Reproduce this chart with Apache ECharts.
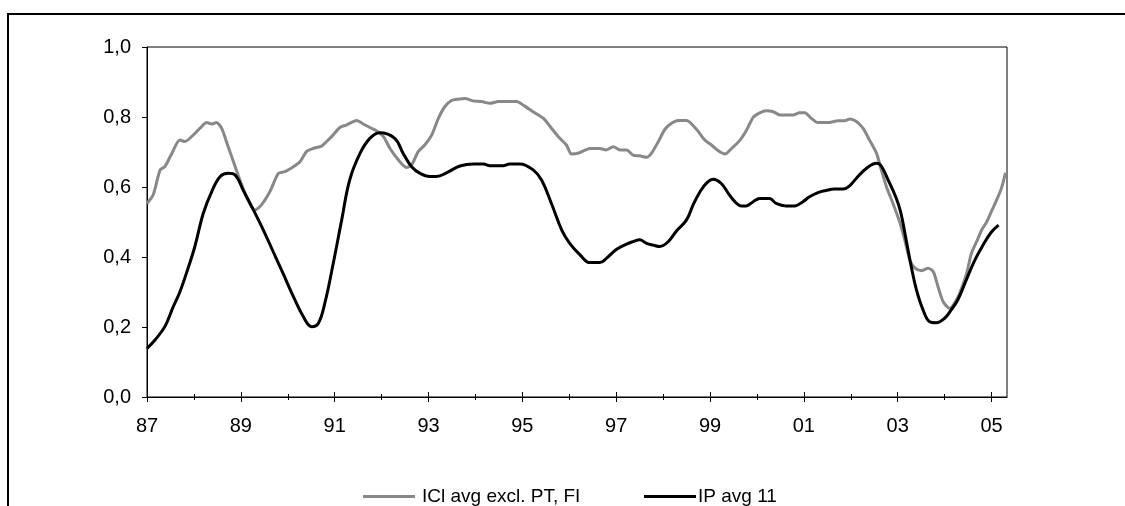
<!DOCTYPE html>
<html>
<head>
<meta charset="utf-8">
<script src="https://cdn.jsdelivr.net/npm/echarts@6/dist/echarts.min.js"></script>
<style>
html,body{margin:0;padding:0;background:#fff;}
#chart{width:1125px;height:506px;}
</style>
</head>
<body>
<div id="chart"></div>
<script>
// Series names
const seriesNames = ['ICl avg excl. PT, FI', 'IP avg 11'];

// Gray series: ICl avg excl. PT, FI (time in decimal years, value)
const iclTimes = [1987.00,1987.13,1987.28,1987.38,1987.53,1987.70,1987.81,1987.99,1988.13,1988.27,1988.38,1988.48,1988.59,1988.73,1988.88,1988.98,1989.12,1989.30,1989.44,1989.62,1989.80,1989.94,1990.12,1990.26,1990.40,1990.54,1990.72,1990.83,1990.97,1991.11,1991.25,1991.47,1991.61,1991.75,1991.89,1992.04,1992.18,1992.36,1992.53,1992.64,1992.78,1992.92,1993.07,1993.21,1993.35,1993.49,1993.63,1993.78,1993.95,1994.13,1994.31,1994.49,1994.66,1994.88,1995.05,1995.23,1995.45,1995.62,1995.80,1995.94,1996.05,1996.22,1996.44,1996.65,1996.79,1996.94,1997.08,1997.22,1997.36,1997.50,1997.65,1997.75,1997.90,1998.04,1998.18,1998.32,1998.50,1998.71,1998.89,1999.03,1999.17,1999.32,1999.46,1999.64,1999.78,1999.92,2000.06,2000.20,2000.35,2000.49,2000.77,2000.91,2001.02,2001.16,2001.30,2001.51,2001.73,2001.87,2001.98,2002.12,2002.26,2002.40,2002.55,2002.65,2002.76,2002.90,2003.04,2003.15,2003.26,2003.37,2003.51,2003.65,2003.76,2003.86,2003.97,2004.11,2004.25,2004.36,2004.47,2004.57,2004.68,2004.79,2004.90,2005.01,2005.11,2005.21,2005.30];
const iclValues = [0.553,0.577,0.649,0.658,0.696,0.734,0.730,0.749,0.768,0.784,0.780,0.784,0.768,0.715,0.658,0.620,0.572,0.534,0.549,0.587,0.639,0.644,0.658,0.672,0.701,0.710,0.717,0.730,0.749,0.770,0.777,0.790,0.780,0.770,0.761,0.744,0.710,0.677,0.656,0.663,0.701,0.720,0.749,0.796,0.830,0.847,0.851,0.853,0.846,0.844,0.839,0.844,0.844,0.844,0.831,0.815,0.796,0.768,0.739,0.720,0.694,0.698,0.710,0.710,0.706,0.715,0.706,0.706,0.691,0.689,0.685,0.696,0.730,0.765,0.782,0.790,0.790,0.765,0.734,0.720,0.704,0.694,0.710,0.734,0.763,0.799,0.812,0.818,0.815,0.806,0.806,0.812,0.812,0.796,0.784,0.784,0.789,0.789,0.794,0.787,0.768,0.734,0.696,0.649,0.601,0.553,0.501,0.449,0.391,0.368,0.361,0.368,0.358,0.315,0.272,0.253,0.277,0.310,0.353,0.410,0.443,0.477,0.501,0.534,0.563,0.596,0.641];

// Black series: IP avg 11
const ipTimes = [1987.00,1987.17,1987.38,1987.56,1987.70,1987.88,1988.02,1988.20,1988.38,1988.56,1988.73,1988.88,1989.05,1989.27,1989.48,1989.69,1989.90,1990.12,1990.33,1990.51,1990.65,1990.79,1990.97,1991.15,1991.32,1991.54,1991.75,1991.96,1992.28,1992.46,1992.64,1992.82,1993.03,1993.17,1993.39,1993.67,1993.96,1994.17,1994.31,1994.59,1994.73,1994.95,1995.23,1995.41,1995.62,1995.84,1996.01,1996.23,1996.44,1996.65,1996.79,1997.01,1997.22,1997.36,1997.50,1997.65,1997.79,1997.93,1998.11,1998.29,1998.50,1998.64,1998.79,1998.93,1999.07,1999.24,1999.39,1999.53,1999.67,1999.77,1999.92,2000.06,2000.27,2000.41,2000.62,2000.80,2000.98,2001.12,2001.30,2001.47,2001.65,2001.84,2001.98,2002.12,2002.33,2002.55,2002.65,2002.79,2002.97,2003.07,2003.18,2003.29,2003.40,2003.54,2003.68,2003.82,2004.00,2004.14,2004.28,2004.46,2004.63,2004.82,2004.99,2005.15];
const ipValues = [0.139,0.163,0.201,0.258,0.300,0.370,0.430,0.525,0.587,0.630,0.639,0.634,0.591,0.534,0.477,0.415,0.353,0.287,0.230,0.201,0.210,0.268,0.382,0.506,0.620,0.696,0.739,0.755,0.739,0.696,0.658,0.639,0.630,0.630,0.641,0.660,0.666,0.666,0.661,0.661,0.666,0.666,0.649,0.620,0.553,0.477,0.439,0.406,0.384,0.384,0.396,0.422,0.437,0.444,0.449,0.439,0.434,0.430,0.444,0.475,0.506,0.549,0.587,0.612,0.622,0.610,0.582,0.558,0.546,0.546,0.558,0.567,0.567,0.553,0.546,0.546,0.558,0.572,0.584,0.590,0.594,0.594,0.604,0.625,0.653,0.668,0.660,0.622,0.568,0.525,0.449,0.372,0.306,0.249,0.215,0.212,0.225,0.249,0.277,0.334,0.387,0.434,0.470,0.491];

// Axis ticks and labels
const xMajorTicks = [1987,1989,1991,1993,1995,1997,1999,2001,2003,2005];
const xTickLabels = ['87','89','91','93','95','97','99','01','03','05'];
const xMinorTicks = [1988,1990,1992,1994,1996,1998,2000,2002,2004];
const yTickLabels = ['0,0','0,2','0,4','0,6','0,8','1,0'];

const X_MIN = 1987, X_MAX = 2005.33;
const FONT = 'Liberation Sans, Arial, sans-serif';

function zip(t, v) { return t.map((x, i) => [x, v[i]]); }

const chart = echarts.init(document.getElementById('chart'), null, {renderer: 'canvas'});

function hiddenAxis(ticks, inside, len) {
  return {
    type: 'value', position: 'bottom', min: X_MIN, max: X_MAX,
    axisLine: {show: false},
    splitLine: {show: false},
    axisLabel: {show: false},
    axisTick: {show: true, inside: inside, length: len, customValues: ticks,
      lineStyle: {color: '#000', width: 1}}
  };
}

const option = {
  animation: false,
  backgroundColor: '#fff',
  textStyle: {fontFamily: FONT},
  graphic: [{
    type: 'rect', silent: true, z: 100,
    shape: {x: 8, y: 14, width: 1400, height: 700},
    style: {fill: 'none', stroke: '#000', lineWidth: 2}
  }],
  grid: {
    left: 147, top: 47, right: 118, bottom: 109,
    show: true, borderColor: '#000', borderWidth: 1, backgroundColor: 'transparent'
  },
  legend: [
    {
      data: [seriesNames[0]], left: 358, top: 482, itemWidth: 52, itemHeight: 3,
      icon: 'rect', itemStyle: {color: '#888888'},
      textStyle: {fontFamily: FONT, fontSize: 19, color: '#000', padding: [0,0,0,2]}
    },
    {
      data: [seriesNames[1]], left: 639, top: 482, itemWidth: 52, itemHeight: 3,
      icon: 'rect', itemStyle: {color: '#000000'},
      textStyle: {fontFamily: FONT, fontSize: 19, color: '#000', padding: [0,0,0,-3]}
    }
  ],
  xAxis: [
    {
      type: 'value', position: 'bottom', min: X_MIN, max: X_MAX,
      axisLine: {show: true, lineStyle: {color: '#000', width: 1}},
      splitLine: {show: false},
      axisTick: {show: true, length: 5, customValues: xMajorTicks, lineStyle: {color: '#000'}},
      axisLabel: {
        show: true, customValues: xMajorTicks, margin: 19,
        fontFamily: FONT, fontSize: 20, color: '#000',
        formatter: function (v) {
          const i = xMajorTicks.indexOf(Math.round(v));
          return i >= 0 ? xTickLabels[i] : '';
        }
      }
    },
    hiddenAxis(xMajorTicks, true, 5),
    hiddenAxis(xMinorTicks, false, 3),
    hiddenAxis(xMinorTicks, true, 3)
  ],
  yAxis: {
    type: 'value', min: 0, max: 1, interval: 0.2,
    axisLine: {show: true, lineStyle: {color: '#000', width: 1}},
    splitLine: {show: false},
    axisTick: {show: true, length: 5, lineStyle: {color: '#000'}},
    axisLabel: {
      margin: 16, fontFamily: FONT, fontSize: 20, color: '#000',
      formatter: function (v) { return yTickLabels[Math.round(v / 0.2)]; }
    }
  },
  series: [
    {
      name: seriesNames[0], type: 'line', xAxisIndex: 0,
      data: zip(iclTimes, iclValues),
      showSymbol: false, symbol: 'none', smooth: 0.25,
      lineStyle: {color: '#888888', width: 3},
      itemStyle: {color: '#888888'}, z: 2
    },
    {
      name: seriesNames[1], type: 'line', xAxisIndex: 0,
      data: zip(ipTimes, ipValues),
      showSymbol: false, symbol: 'none', smooth: 0.4,
      lineStyle: {color: '#000000', width: 3},
      itemStyle: {color: '#000000'}, z: 3
    }
  ]
};
chart.setOption(option);
</script>
</body>
</html>
